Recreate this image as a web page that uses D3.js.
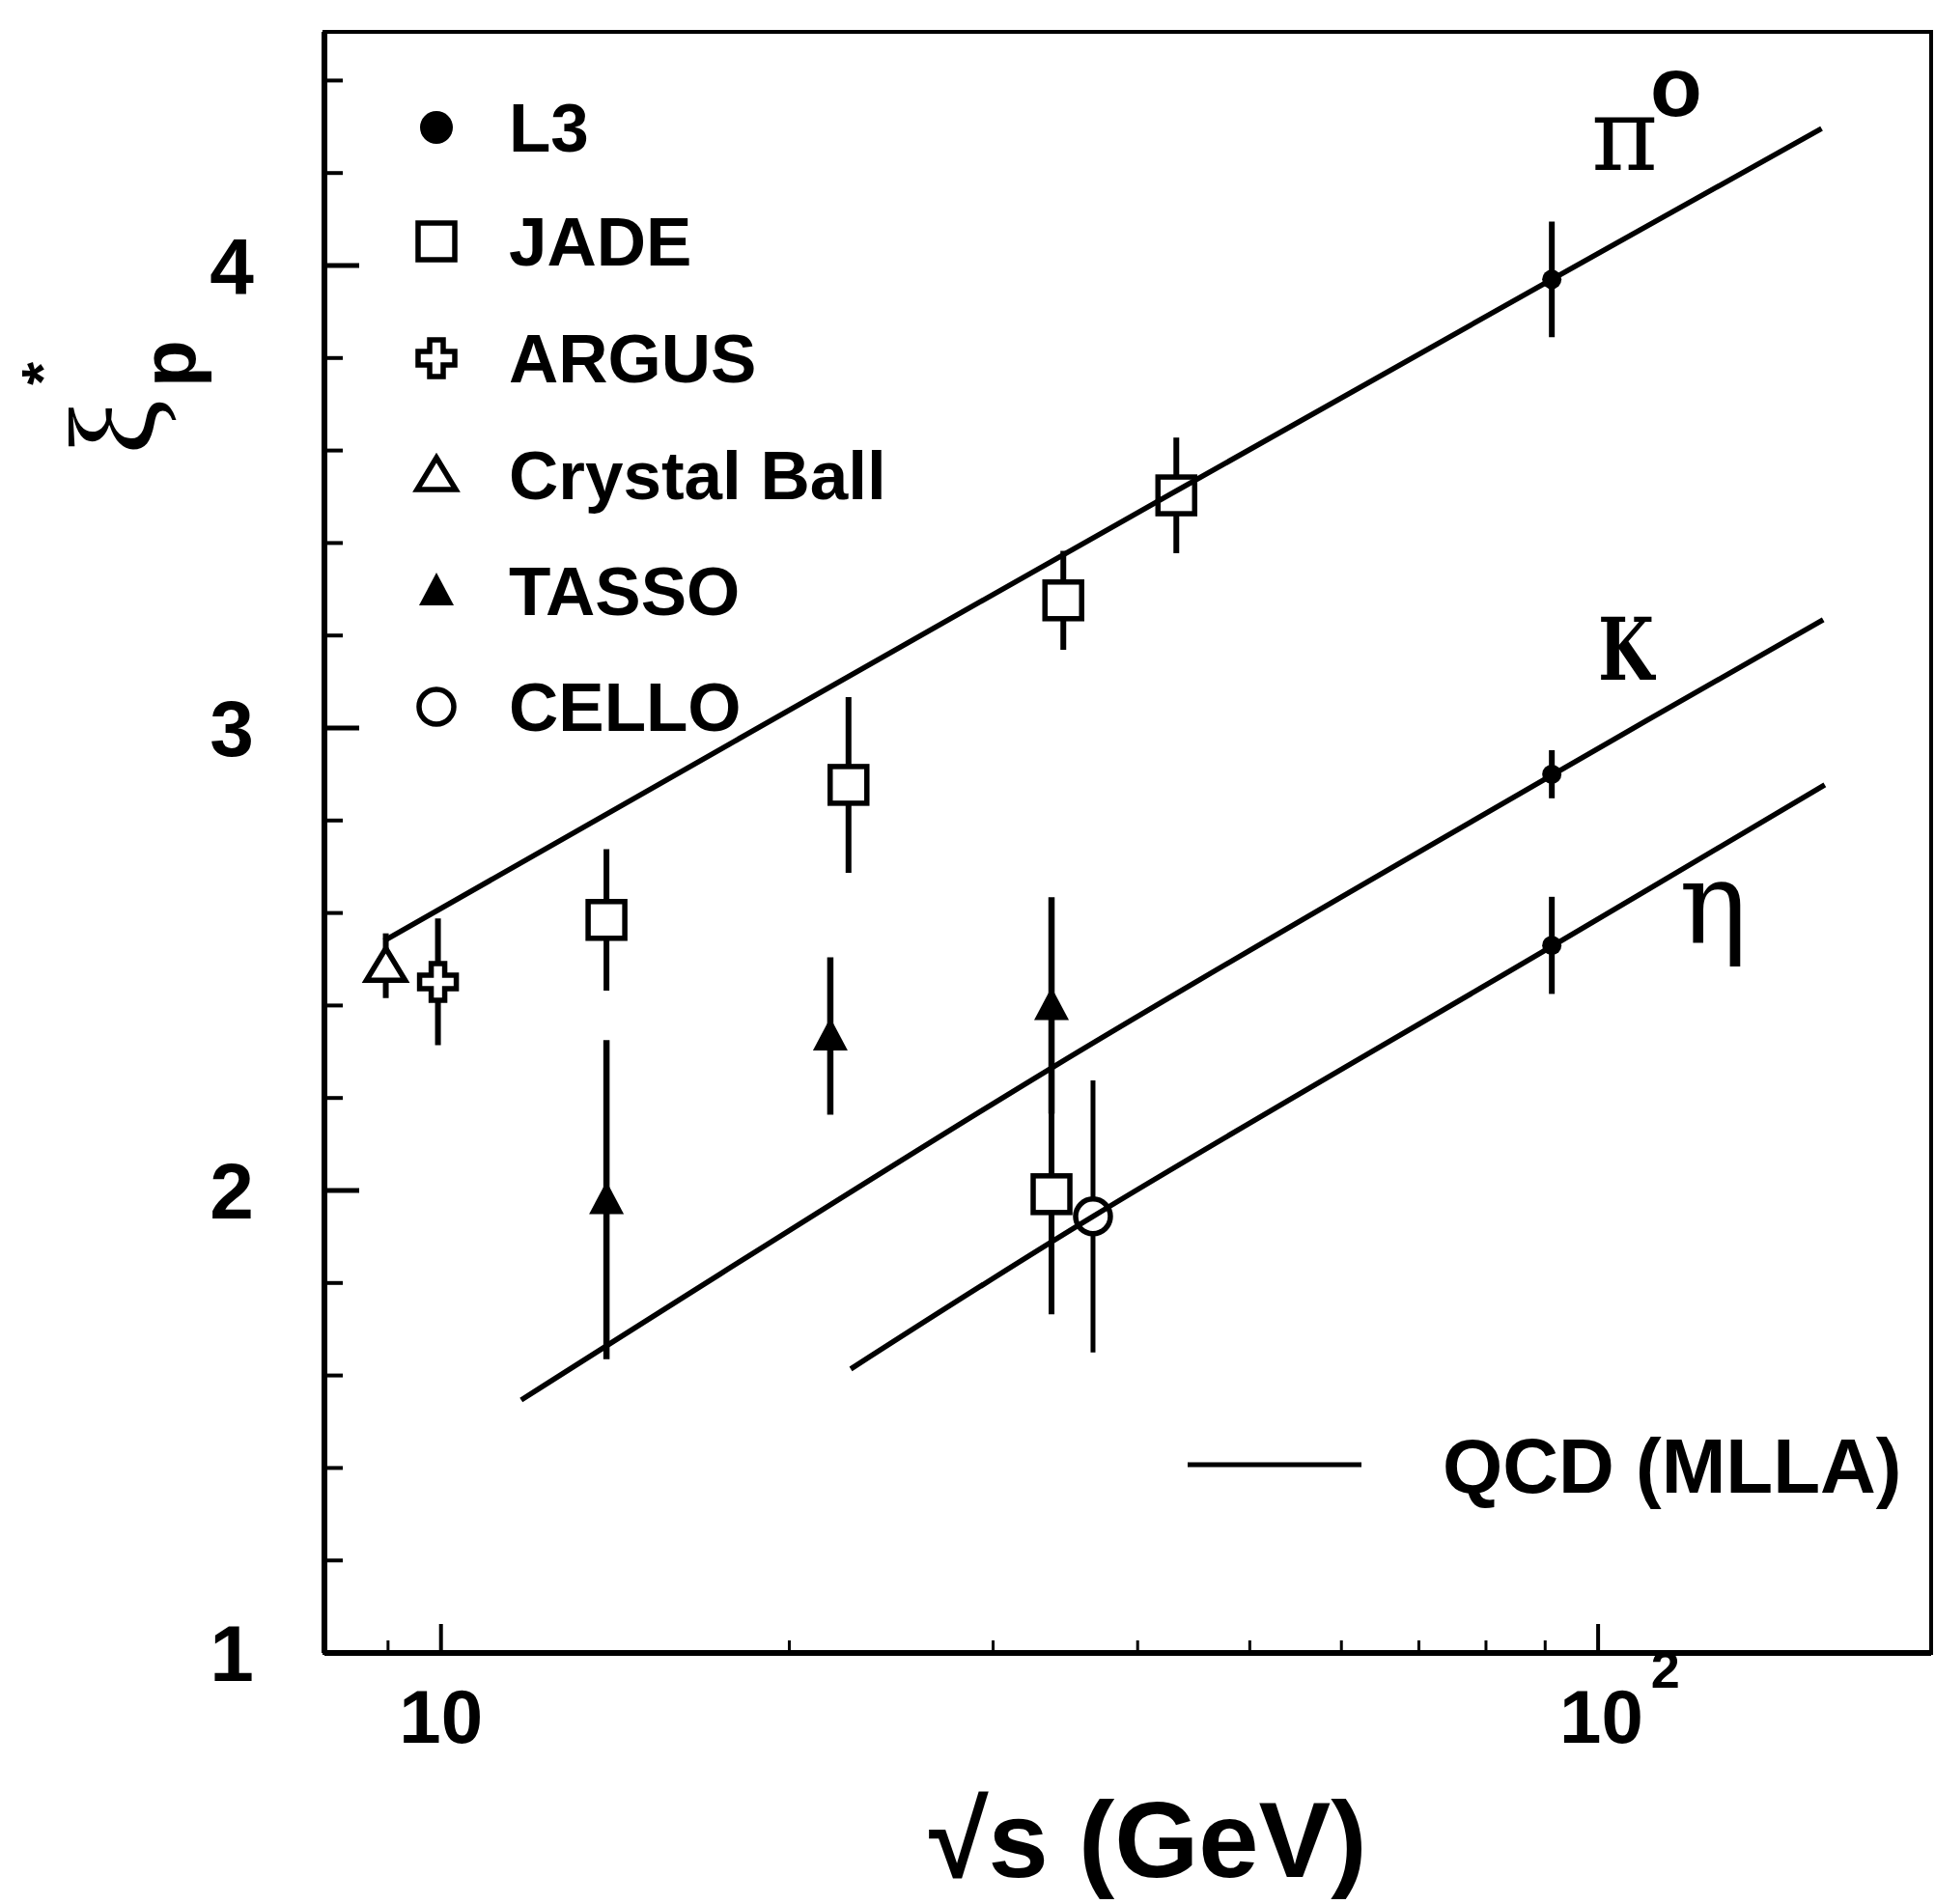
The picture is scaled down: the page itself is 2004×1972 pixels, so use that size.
<!DOCTYPE html>
<html><head><meta charset="utf-8">
<script src="https://cdn.jsdelivr.net/npm/d3@7"></script>
<style>
body{margin:0;background:#fff;}
svg{display:block;}
</style></head><body>
<svg id="chart" width="2004" height="1972"></svg>
<script>
// ---------- data ----------
const xMajorTicks = [10, 100];
const xMinorTicks = [9, 20, 30, 40, 50, 60, 70, 80, 90];
const yMajorTicks = [1, 2, 3, 4];
const yMinorTicks = [1.2,1.4,1.6,1.8,2.2,2.4,2.6,2.8,3.2,3.4,3.6,3.8,4.2,4.4];

const l3Energy = [91.2, 91.2, 91.2];
const l3Xi     = [3.97, 2.90, 2.53];
const l3Err    = [0.125, 0.052, 0.105];

const jadeEnergy = [13.9, 22.5, 34.5, 43.2, 33.7];
const jadeXi     = [2.585, 2.877, 3.276, 3.503, 1.992];
const jadeErr    = [0.153, 0.19, 0.107, 0.125, 0.26];

const argusEnergy = [9.94];
const argusXi     = [2.451];
const argusErr    = [0.137];

const cbEnergy = [8.96];
const cbXi     = [2.486];
const cbErr    = [0.07];

const tassoEnergy = [13.9, 21.7, 33.7];
const tassoXi     = [1.98, 2.334, 2.40];
const tassoErr    = [0.345, 0.17, 0.234];

const celloEnergy = [36.6];
const celloXi     = [1.944];
const celloErr    = [0.294];

// QCD (MLLA) curves: [sqrt(s), xi*]
const pi0Curve = [[8.93, 2.54], [28.4, 3.255], [91.2, 3.97], [156, 4.296]];
const kCurve   = [[11.73, 1.547], [33.6, 2.263], [91.2, 2.898], [156.5, 3.234]];
const etaCurve = [[22.6, 1.614], [36.6, 1.944], [91.2, 2.528], [157, 2.877]];

const legendNames = ["L3", "JADE", "ARGUS", "Crystal Ball", "TASSO", "CELLO"];

// ---------- layout ----------
const svg = d3.select("#chart");
const pL = 336, pR = 2000, pT = 33, pB = 1712;
const x = d3.scaleLog().domain([7.93, 194]).range([pL, pR]);
const y = d3.scaleLinear().domain([1, 4.5]).range([pB, 1712 - 3.5 * 479]);

const SANS = "'Liberation Sans', Arial, Helvetica, sans-serif";
const SERIF = "'DejaVu Serif', 'Liberation Serif', serif";
const TIMES = "'Liberation Serif', 'DejaVu Serif', serif";
const SW = 5;

// frame
svg.append("rect").attr("x", pL).attr("y", pT)
  .attr("width", pR - pL).attr("height", pB - pT)
  .attr("fill", "none").attr("stroke", "#000").attr("stroke-width", 4);
svg.append("line").attr("x1", pL).attr("x2", pL).attr("y1", pT).attr("y2", pB)
  .attr("stroke", "#000").attr("stroke-width", 6);
svg.append("line").attr("x1", pL).attr("x2", pR).attr("y1", pB).attr("y2", pB)
  .attr("stroke", "#000").attr("stroke-width", 6);

// y ticks (inside)
const gy = svg.append("g");
gy.selectAll("line.maj").data(yMajorTicks.filter(d => d > 1)).join("line")
  .attr("class", "maj")
  .attr("x1", pL).attr("x2", pL + 36).attr("y1", d => y(d)).attr("y2", d => y(d))
  .attr("stroke", "#000").attr("stroke-width", SW);
gy.selectAll("line.min").data(yMinorTicks).join("line")
  .attr("class", "min")
  .attr("x1", pL).attr("x2", pL + 19).attr("y1", d => y(d)).attr("y2", d => y(d))
  .attr("stroke", "#000").attr("stroke-width", 4);
gy.selectAll("text").data(yMajorTicks).join("text")
  .attr("x", 240).attr("y", d => y(d) + 29)
  .attr("text-anchor", "middle").attr("font-family", SANS).attr("font-weight", "bold")
  .attr("font-size", 82).text(d => d);

// x ticks (inside)
const gx = svg.append("g");
gx.selectAll("line.maj").data(xMajorTicks).join("line")
  .attr("class", "maj")
  .attr("x1", d => x(d)).attr("x2", d => x(d)).attr("y1", pB).attr("y2", pB - 30)
  .attr("stroke", "#000").attr("stroke-width", 4);
gx.selectAll("line.min").data(xMinorTicks).join("line")
  .attr("class", "min")
  .attr("x1", d => x(d)).attr("x2", d => x(d)).attr("y1", pB).attr("y2", pB - 13)
  .attr("stroke", "#000").attr("stroke-width", 3);
gx.append("text").attr("x", x(10)).attr("y", 1805).attr("text-anchor", "middle")
  .attr("font-family", SANS).attr("font-weight", "bold").attr("font-size", 78).text("10");
const t100 = gx.append("text").attr("x", x(100) - 40).attr("y", 1805)
  .attr("font-family", SANS).attr("font-weight", "bold").attr("font-size", 78);
t100.append("tspan").text("10");
t100.append("tspan").attr("dy", -57).attr("dx", 8).attr("font-size", 54).text("2");

// axis titles
svg.append("text").attr("x", 962).attr("y", 1944)
  .attr("font-family", SANS).attr("font-weight", "bold").attr("font-size", 112)
  .text("√s (GeV)");

const yl = svg.append("text").attr("transform", "translate(160,471) rotate(-90)")
  .attr("font-family", SANS).attr("font-weight", "bold");
yl.append("tspan").attr("x", 0).attr("y", 0).attr("font-family", TIMES)
  .attr("font-weight", "normal").attr("font-size", 128).text("ξ");
yl.append("tspan").attr("x", 72).attr("y", -95).attr("font-size", 62).text("*");
yl.append("tspan").attr("x", 70).attr("y", 42).attr("font-size", 80).text("p");

// curves
const line = d3.line().x(d => x(d[0])).y(d => y(d[1])).curve(d3.curveCatmullRom);

// error bars
function errBars(E, V, S, w) {
  svg.append("g").selectAll("line").data(E.map((e, i) => [e, V[i], S[i]])).join("line")
    .attr("x1", d => x(d[0])).attr("x2", d => x(d[0]))
    .attr("y1", d => y(d[1] - d[2])).attr("y2", d => y(d[1] + d[2]))
    .attr("stroke", "#000").attr("stroke-width", w);
}
errBars(l3Energy, l3Xi, l3Err, 6);
errBars(jadeEnergy, jadeXi, jadeErr, 6);
errBars(argusEnergy, argusXi, argusErr, 6);
errBars(cbEnergy, cbXi, cbErr, 6);
errBars(tassoEnergy, tassoXi, tassoErr, 6.5);
errBars(celloEnergy, celloXi, celloErr, 5);

// marker drawers
const sym = {
  L3: (g, r) => g.append("circle").attr("r", r || 10).attr("fill", "#000"),
  JADE: (g) => g.append("rect").attr("x", -19).attr("y", -19).attr("width", 38).attr("height", 38)
      .attr("fill", "#fff").attr("stroke", "#000").attr("stroke-width", SW + 0.5),
  ARGUS: (g) => g.append("path")
      .attr("d", "M-7,-19H7V-7H19V7H7V19H-7V7H-19V-7H-7Z")
      .attr("fill", "#fff").attr("stroke", "#000").attr("stroke-width", SW + 0.5),
  "Crystal Ball": (g) => g.append("path").attr("d", "M0,-18L20,15H-20Z")
      .attr("fill", "#fff").attr("stroke", "#000").attr("stroke-width", SW + 0.5),
  TASSO: (g) => g.append("path").attr("d", "M0,-19L18,15H-18Z").attr("fill", "#000"),
  CELLO: (g) => g.append("circle").attr("r", 18)
      .attr("fill", "#fff").attr("stroke", "#000").attr("stroke-width", SW + 0.5)
};

function markers(name, E, V) {
  E.forEach((e, i) => {
    const g = svg.append("g").attr("transform", `translate(${x(e)},${y(V[i])})`);
    sym[name](g);
  });
}
markers("JADE", jadeEnergy, jadeXi);
markers("ARGUS", argusEnergy, argusXi);
markers("Crystal Ball", cbEnergy, cbXi);
markers("TASSO", tassoEnergy, tassoXi);
markers("CELLO", celloEnergy, celloXi);

[pi0Curve, kCurve, etaCurve].forEach(c => {
  svg.append("path").attr("d", line(c)).attr("fill", "none")
    .attr("stroke", "#000").attr("stroke-width", 5.5);
});
markers("L3", l3Energy, l3Xi);

// curve labels
const pl = svg.append("text").attr("x", 1648).attr("y", 176);
pl.append("tspan").attr("font-family", SERIF).attr("font-size", 105).text("π");
pl.append("tspan").attr("x", 1709).attr("y", 120).attr("font-family", SANS)
  .attr("font-weight", "bold").attr("font-size", 88).text("o");
svg.append("text").attr("x", 1655).attr("y", 704).attr("font-family", SERIF)
  .attr("font-weight", "bold").attr("font-size", 90)
  .attr("textLength", 58).attr("lengthAdjust", "spacingAndGlyphs").text("K");
svg.append("text").attr("x", 1739).attr("y", 976).attr("font-family", SERIF)
  .attr("font-size", 118).text("η");

// legend
const legRows = [132, 250, 371, 492, 612, 732];
legendNames.forEach((n, i) => {
  const g = svg.append("g").attr("transform", `translate(452,${legRows[i]})`);
  if (n === "L3") sym.L3(g, 17); else sym[n](g);
  svg.append("text").attr("x", 527).attr("y", legRows[i] + 25)
    .attr("font-family", SANS).attr("font-weight", "bold").attr("font-size", 71).text(n);
});
svg.append("line").attr("x1", 1230).attr("x2", 1410).attr("y1", 1517).attr("y2", 1517)
  .attr("stroke", "#000").attr("stroke-width", 5);
svg.append("text").attr("x", 1494).attr("y", 1546)
  .attr("font-family", SANS).attr("font-weight", "bold").attr("font-size", 80).text("QCD (MLLA)");
</script>
</body></html>
